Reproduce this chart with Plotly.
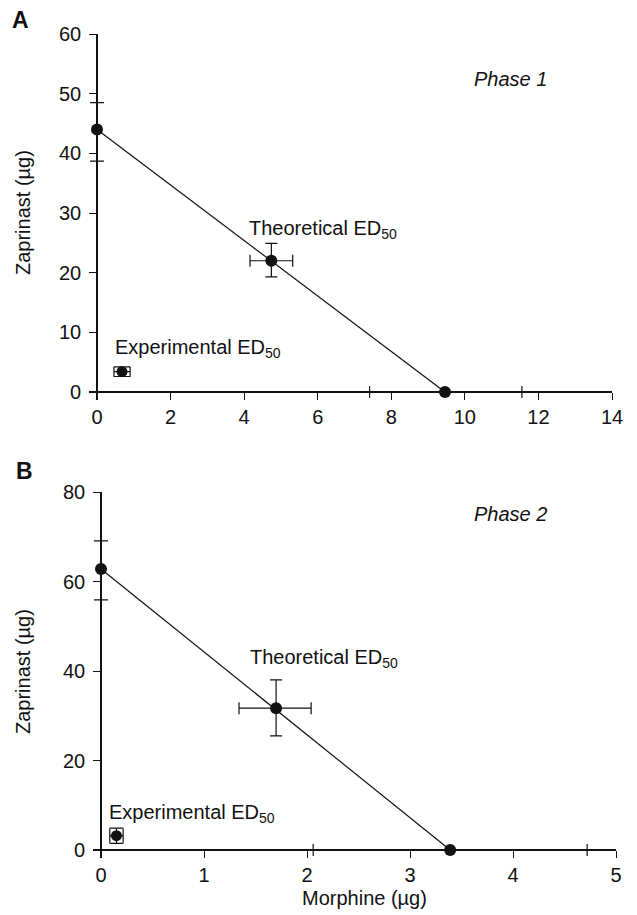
import plotly.graph_objects as go

# Page body has an 8px default margin, so the figure is drawn 8px in from the top-left.
OFF = 8
W, H = 637 - OFF, 915 - OFF

# Panel A (Phase 1)
a_line_x = [0, 9.46]
a_line_y = [44, 0]
a_end_x = [0, 9.46]
a_end_y = [44, 0]
a_end_xerr_plus = [0, 2.09]
a_end_xerr_minus = [0, 2.05]
a_end_yerr_plus = [4.5, 0]
a_end_yerr_minus = [5.3, 0]
a_theo_x = [4.74]
a_theo_y = [22.0]
a_theo_xerr_plus = [0.58]
a_theo_xerr_minus = [0.58]
a_theo_yerr_plus = [2.9]
a_theo_yerr_minus = [2.7]
a_exp_x = [0.68]
a_exp_y = [3.4]
a_exp_xerr = [0.22]
a_exp_yerr = [0.8]

# Panel B (Phase 2)
b_line_x = [0, 3.39]
b_line_y = [62.8, 0]
b_end_x = [0, 3.39]
b_end_y = [62.8, 0]
b_end_xerr_plus = [0, 1.33]
b_end_xerr_minus = [0, 1.33]
b_end_yerr_plus = [6.3, 0]
b_end_yerr_minus = [6.9, 0]
b_theo_x = [1.70]
b_theo_y = [31.7]
b_theo_xerr_plus = [0.34]
b_theo_xerr_minus = [0.36]
b_theo_yerr_plus = [6.3]
b_theo_yerr_minus = [6.2]
b_exp_x = [0.15]
b_exp_y = [3.2]
b_exp_xerr = [0.065]
b_exp_yerr = [1.7]

a_xticks = [0, 2, 4, 6, 8, 10, 12, 14]
a_yticks = [0, 10, 20, 30, 40, 50, 60]
b_xticks = [0, 1, 2, 3, 4, 5]
b_yticks = [0, 20, 40, 60, 80]
a_xmax, a_ymax = 14, 60
b_xmax, b_ymax = 5, 80

INK = "#111111"
FONT = "Liberation Sans, Arial, sans-serif"
PAD = 8  # px of axis overhang past the origin

def px(x):
    return (x - OFF) / W

def py(y):
    return 1 - (y - OFF) / H

fig = go.Figure()

def add_panel(xa, ya, lx, ly, ex, ey, exp_, exm, eyp, eym,
              tx, ty, txp, txm, typ, tym, xx, xy, xxe, xye, capx, capy):
    fig.add_trace(go.Scatter(x=lx, y=ly, mode="lines", line=dict(color=INK, width=1.2),
                             xaxis=xa, yaxis=ya, showlegend=False, hoverinfo="skip"))
    fig.add_trace(go.Scatter(x=ex, y=ey, mode="markers", cliponaxis=False,
                             marker=dict(color=INK, size=12),
                             error_x=dict(type="data", symmetric=False, array=exp_, arrayminus=exm,
                                          color=INK, thickness=1.2, width=6),
                             error_y=dict(type="data", symmetric=False, array=eyp, arrayminus=eym,
                                          color=INK, thickness=1.2, width=7),
                             xaxis=xa, yaxis=ya, showlegend=False, hoverinfo="skip"))
    fig.add_trace(go.Scatter(x=tx, y=ty, mode="markers", cliponaxis=False,
                             marker=dict(color=INK, size=12),
                             error_x=dict(type="data", symmetric=False, array=txp, arrayminus=txm,
                                          color=INK, thickness=1.2, width=6),
                             error_y=dict(type="data", symmetric=False, array=typ, arrayminus=tym,
                                          color=INK, thickness=1.2, width=6),
                             xaxis=xa, yaxis=ya, showlegend=False, hoverinfo="skip"))
    fig.add_trace(go.Scatter(x=xx, y=xy, mode="markers", cliponaxis=False,
                             marker=dict(color=INK, size=11),
                             error_x=dict(type="data", array=xxe, color=INK, thickness=1.2, width=capx),
                             error_y=dict(type="data", array=xye, color=INK, thickness=1.2, width=capy),
                             xaxis=xa, yaxis=ya, showlegend=False, hoverinfo="skip"))

add_panel("x", "y", a_line_x, a_line_y, a_end_x, a_end_y, a_end_xerr_plus, a_end_xerr_minus,
          a_end_yerr_plus, a_end_yerr_minus, a_theo_x, a_theo_y, a_theo_xerr_plus, a_theo_xerr_minus,
          a_theo_yerr_plus, a_theo_yerr_minus, a_exp_x, a_exp_y, a_exp_xerr, a_exp_yerr, 5, 8)
add_panel("x2", "y2", b_line_x, b_line_y, b_end_x, b_end_y, b_end_xerr_plus, b_end_xerr_minus,
          b_end_yerr_plus, b_end_yerr_minus, b_theo_x, b_theo_y, b_theo_xerr_plus, b_theo_xerr_minus,
          b_theo_yerr_plus, b_theo_yerr_minus, b_exp_x, b_exp_y, b_exp_xerr, b_exp_yerr, 7, 7)

axis_common = dict(showline=True, linecolor=INK, linewidth=1.6, ticks="outside", ticklen=7,
                   tickwidth=1.3, tickcolor=INK, showgrid=False, zeroline=False, automargin=False,
                   tickfont=dict(family=FONT, size=20, color=INK), fixedrange=True)

def panel_axes(x0, x1, y0, y1, xmax, ymax, xt, yt):
    # x0,x1: page pixel of data x=0 and x=xmax; y0,y1: page pixel of data y=0 and y=ymax
    xs = (x1 - x0) / xmax
    ys = (y0 - y1) / ymax
    xaxis = dict(domain=[px(x0 - PAD), px(x1)], range=[-PAD / xs, xmax], tickvals=xt,
                 anchor="free", position=py(y0), ticklabelstandoff=0, **axis_common)
    yaxis = dict(domain=[py(y0 + PAD), py(y1)], range=[-PAD / ys, ymax], tickvals=yt,
                 anchor="free", position=px(x0), ticklabelstandoff=4, **axis_common)
    return xaxis, yaxis

xa1, ya1 = panel_axes(97, 612, 392, 34, a_xmax, a_ymax, a_xticks, a_yticks)
xa2, ya2 = panel_axes(101, 616, 850, 492, b_xmax, b_ymax, b_xticks, b_yticks)

fig.update_layout(
    width=W, height=H, margin=dict(l=0, r=0, t=0, b=0),
    paper_bgcolor="white", plot_bgcolor="white",
    font=dict(family=FONT, color=INK),
    xaxis=xa1, yaxis=ya1, xaxis2=xa2, yaxis2=ya2,
)

def ann(text, x, y, size=20, xanchor="center", angle=0, **kw):
    fig.add_annotation(text=text, x=px(x), y=py(y), xref="paper", yref="paper",
                       xanchor=xanchor, yanchor="middle", showarrow=False, textangle=angle,
                       font=dict(family=FONT, size=size, color=INK), **kw)

ann("<b>A</b>", 21, 20, size=23, borderpad=0)
ann("<b>B</b>", 24, 471, size=23)
ann("<i>Phase 1</i>", 510, 79)
ann("<i>Phase 2</i>", 510, 514)
ann("Theoretical ED<sub>50</sub>", 247, 229, xanchor="left")
ann("Experimental ED<sub>50</sub>", 113, 348, xanchor="left")
ann("Theoretical ED<sub>50</sub>", 248, 658, xanchor="left")
ann("Experimental ED<sub>50</sub>", 107, 813, xanchor="left")
ann("Zaprinast (µg)", 23, 213, angle=-90)
ann("Zaprinast (µg)", 23, 672, angle=-90)
ann("Morphine (µg)", 364, 898)

fig.write_html("out.html")
